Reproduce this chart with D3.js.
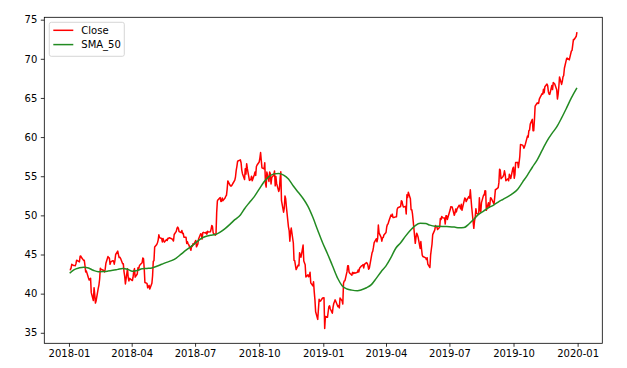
<!DOCTYPE html>
<html>
<head>
<meta charset="utf-8">
<script src="https://cdn.jsdelivr.net/npm/d3@7"></script>
<style>
  html, body { margin: 0; padding: 0; background: #fff; }
  svg { display: block; font-family: "DejaVu Sans", sans-serif; }
</style>
</head>
<body>
<div id="chart"></div>
<script>
// daily closing prices, one line per month
const dates = [
  "2018-01-02","2018-01-03","2018-01-04","2018-01-05","2018-01-08","2018-01-09","2018-01-10","2018-01-11","2018-01-12","2018-01-16","2018-01-17","2018-01-18","2018-01-19","2018-01-22","2018-01-23","2018-01-24","2018-01-25","2018-01-26","2018-01-29","2018-01-30","2018-01-31",
  "2018-02-01","2018-02-02","2018-02-05","2018-02-06","2018-02-07","2018-02-08","2018-02-09","2018-02-12","2018-02-13","2018-02-14","2018-02-15","2018-02-16","2018-02-20","2018-02-21","2018-02-22","2018-02-23","2018-02-26","2018-02-27","2018-02-28",
  "2018-03-01","2018-03-02","2018-03-05","2018-03-06","2018-03-07","2018-03-08","2018-03-09","2018-03-12","2018-03-13","2018-03-14","2018-03-15","2018-03-16","2018-03-19","2018-03-20","2018-03-21","2018-03-22","2018-03-23","2018-03-26","2018-03-27","2018-03-28","2018-03-29",
  "2018-04-02","2018-04-03","2018-04-04","2018-04-05","2018-04-06","2018-04-09","2018-04-10","2018-04-11","2018-04-12","2018-04-13","2018-04-16","2018-04-17","2018-04-18","2018-04-19","2018-04-20","2018-04-23","2018-04-24","2018-04-25","2018-04-26","2018-04-27","2018-04-30",
  "2018-05-01","2018-05-02","2018-05-03","2018-05-04","2018-05-07","2018-05-08","2018-05-09","2018-05-10","2018-05-11","2018-05-14","2018-05-15","2018-05-16","2018-05-17","2018-05-18","2018-05-21","2018-05-22","2018-05-23","2018-05-24","2018-05-25","2018-05-29","2018-05-30","2018-05-31",
  "2018-06-01","2018-06-04","2018-06-05","2018-06-06","2018-06-07","2018-06-08","2018-06-11","2018-06-12","2018-06-13","2018-06-14","2018-06-15","2018-06-18","2018-06-19","2018-06-20","2018-06-21","2018-06-22","2018-06-25","2018-06-26","2018-06-27","2018-06-28","2018-06-29",
  "2018-07-02","2018-07-03","2018-07-05","2018-07-06","2018-07-09","2018-07-10","2018-07-11","2018-07-12","2018-07-13","2018-07-16","2018-07-17","2018-07-18","2018-07-19","2018-07-20","2018-07-23","2018-07-24","2018-07-25","2018-07-26","2018-07-27","2018-07-30","2018-07-31",
  "2018-08-01","2018-08-02","2018-08-03","2018-08-06","2018-08-07","2018-08-08","2018-08-09","2018-08-10","2018-08-13","2018-08-14","2018-08-15","2018-08-16","2018-08-17","2018-08-20","2018-08-21","2018-08-22","2018-08-23","2018-08-24","2018-08-27","2018-08-28","2018-08-29","2018-08-30","2018-08-31",
  "2018-09-04","2018-09-05","2018-09-06","2018-09-07","2018-09-10","2018-09-11","2018-09-12","2018-09-13","2018-09-14","2018-09-17","2018-09-18","2018-09-19","2018-09-20","2018-09-21","2018-09-24","2018-09-25","2018-09-26","2018-09-27","2018-09-28",
  "2018-10-01","2018-10-02","2018-10-03","2018-10-04","2018-10-05","2018-10-08","2018-10-09","2018-10-10","2018-10-11","2018-10-12","2018-10-15","2018-10-16","2018-10-17","2018-10-18","2018-10-19","2018-10-22","2018-10-23","2018-10-24","2018-10-25","2018-10-26","2018-10-29","2018-10-30","2018-10-31",
  "2018-11-01","2018-11-02","2018-11-05","2018-11-06","2018-11-07","2018-11-08","2018-11-09","2018-11-12","2018-11-13","2018-11-14","2018-11-15","2018-11-16","2018-11-19","2018-11-20","2018-11-21","2018-11-23","2018-11-26","2018-11-27","2018-11-28","2018-11-29","2018-11-30",
  "2018-12-03","2018-12-04","2018-12-06","2018-12-07","2018-12-10","2018-12-11","2018-12-12","2018-12-13","2018-12-14","2018-12-17","2018-12-18","2018-12-19","2018-12-20","2018-12-21","2018-12-24","2018-12-26","2018-12-27","2018-12-28","2018-12-31",
  "2019-01-02","2019-01-03","2019-01-04","2019-01-07","2019-01-08","2019-01-09","2019-01-10","2019-01-11","2019-01-14","2019-01-15","2019-01-16","2019-01-17","2019-01-18","2019-01-22","2019-01-23","2019-01-24","2019-01-25","2019-01-28","2019-01-29","2019-01-30","2019-01-31",
  "2019-02-01","2019-02-04","2019-02-05","2019-02-06","2019-02-07","2019-02-08","2019-02-11","2019-02-12","2019-02-13","2019-02-14","2019-02-15","2019-02-19","2019-02-20","2019-02-21","2019-02-22","2019-02-25","2019-02-26","2019-02-27","2019-02-28",
  "2019-03-01","2019-03-04","2019-03-05","2019-03-06","2019-03-07","2019-03-08","2019-03-11","2019-03-12","2019-03-13","2019-03-14","2019-03-15","2019-03-18","2019-03-19","2019-03-20","2019-03-21","2019-03-22","2019-03-25","2019-03-26","2019-03-27","2019-03-28","2019-03-29",
  "2019-04-01","2019-04-02","2019-04-03","2019-04-04","2019-04-05","2019-04-08","2019-04-09","2019-04-10","2019-04-11","2019-04-12","2019-04-15","2019-04-16","2019-04-17","2019-04-18","2019-04-22","2019-04-23","2019-04-24","2019-04-25","2019-04-26","2019-04-29","2019-04-30",
  "2019-05-01","2019-05-02","2019-05-03","2019-05-06","2019-05-07","2019-05-08","2019-05-09","2019-05-10","2019-05-13","2019-05-14","2019-05-15","2019-05-16","2019-05-17","2019-05-20","2019-05-21","2019-05-22","2019-05-23","2019-05-24","2019-05-28","2019-05-29","2019-05-30","2019-05-31",
  "2019-06-03","2019-06-04","2019-06-05","2019-06-06","2019-06-07","2019-06-10","2019-06-11","2019-06-12","2019-06-13","2019-06-14","2019-06-17","2019-06-18","2019-06-19","2019-06-20","2019-06-21","2019-06-24","2019-06-25","2019-06-26","2019-06-27","2019-06-28",
  "2019-07-01","2019-07-02","2019-07-03","2019-07-05","2019-07-08","2019-07-09","2019-07-10","2019-07-11","2019-07-12","2019-07-15","2019-07-16","2019-07-17","2019-07-18","2019-07-19","2019-07-22","2019-07-23","2019-07-24","2019-07-25","2019-07-26","2019-07-29","2019-07-30","2019-07-31",
  "2019-08-01","2019-08-02","2019-08-05","2019-08-06","2019-08-07","2019-08-08","2019-08-09","2019-08-12","2019-08-13","2019-08-14","2019-08-15","2019-08-16","2019-08-19","2019-08-20","2019-08-21","2019-08-22","2019-08-23","2019-08-26","2019-08-27","2019-08-28","2019-08-29","2019-08-30",
  "2019-09-03","2019-09-04","2019-09-05","2019-09-06","2019-09-09","2019-09-10","2019-09-11","2019-09-12","2019-09-13","2019-09-16","2019-09-17","2019-09-18","2019-09-19","2019-09-20","2019-09-23","2019-09-24","2019-09-25","2019-09-26","2019-09-27","2019-09-30",
  "2019-10-01","2019-10-02","2019-10-03","2019-10-04","2019-10-07","2019-10-08","2019-10-09","2019-10-10","2019-10-11","2019-10-14","2019-10-15","2019-10-16","2019-10-17","2019-10-18","2019-10-21","2019-10-22","2019-10-23","2019-10-24","2019-10-25","2019-10-28","2019-10-29","2019-10-30","2019-10-31",
  "2019-11-01","2019-11-04","2019-11-05","2019-11-06","2019-11-07","2019-11-08","2019-11-11","2019-11-12","2019-11-13","2019-11-14","2019-11-15","2019-11-18","2019-11-19","2019-11-20","2019-11-21","2019-11-22","2019-11-25","2019-11-26","2019-11-27","2019-11-29",
  "2019-12-02","2019-12-03","2019-12-04","2019-12-05","2019-12-06","2019-12-09","2019-12-10","2019-12-11","2019-12-12","2019-12-13","2019-12-16","2019-12-17","2019-12-18","2019-12-19","2019-12-20","2019-12-23","2019-12-24","2019-12-26","2019-12-27","2019-12-30","2019-12-31"
];

const closePrices = [
  43.07,43.06,43.26,43.75,43.59,43.58,43.57,43.82,44.27,44.05,44.78,44.81,44.62,44.25,44.26,43.56,42.78,42.88,41.99,41.74,41.86,
  41.95,40.13,39.12,40.76,39.89,38.79,39.10,40.68,41.09,41.84,43.25,43.11,42.96,42.77,43.13,43.88,44.74,44.60,44.53,
  43.75,44.05,44.21,44.17,43.76,44.24,45.00,45.43,44.99,44.61,44.66,44.51,43.83,43.81,42.82,42.21,41.24,43.19,42.09,41.62,41.95,
  41.67,42.10,42.90,43.20,42.10,42.51,43.31,43.11,43.54,43.68,43.96,44.56,44.46,43.20,41.43,41.31,40.74,40.91,41.06,40.58,41.32,
  42.28,44.14,44.22,45.96,46.29,46.51,46.84,47.51,47.15,47.04,46.61,47.05,46.75,46.58,46.91,46.79,47.09,47.04,47.15,46.98,46.88,46.72,
  47.56,47.96,48.33,48.50,48.37,47.93,47.81,48.07,47.68,47.70,47.21,47.19,46.42,46.63,46.37,46.23,45.54,46.11,46.04,46.38,46.28,
  46.80,45.98,46.35,46.99,47.65,47.59,46.97,47.76,47.83,47.73,47.86,47.60,47.97,47.86,47.90,48.25,48.71,48.55,47.75,47.48,47.57,
  50.38,51.85,52.00,52.27,51.78,51.81,52.22,51.88,52.22,52.44,52.56,53.33,54.40,53.87,53.76,53.76,53.87,54.04,54.49,54.93,55.75,56.26,56.91,
  57.09,56.72,55.78,55.33,54.58,55.96,55.27,56.60,55.96,54.47,54.56,54.59,55.01,54.42,55.20,55.55,55.11,56.24,56.44,
  56.82,57.32,58.02,57.00,56.07,55.94,56.72,54.09,53.61,55.53,54.34,55.54,55.30,54.01,54.83,55.16,55.68,53.77,54.95,54.08,53.06,53.33,54.72,
  55.56,51.87,50.40,50.94,52.49,52.12,51.12,48.54,48.06,46.70,47.85,48.38,46.47,44.25,44.20,43.07,43.66,43.56,45.24,44.89,44.65,
  46.21,44.17,43.68,42.12,42.40,42.16,42.28,42.74,41.37,40.99,41.52,40.22,39.21,37.68,36.71,39.29,39.04,39.06,39.44,
  39.48,35.55,37.07,36.98,37.69,38.33,38.45,38.07,37.50,38.27,38.74,38.97,39.21,38.33,38.48,38.18,39.44,39.08,38.67,41.31,41.61,
  41.63,42.81,43.55,43.56,42.74,42.60,42.36,42.72,42.55,42.70,42.61,42.73,43.01,42.77,43.24,43.56,43.58,43.72,43.29,
  43.74,43.96,43.88,43.63,43.13,43.23,44.73,45.23,45.43,45.93,46.53,47.01,46.63,47.04,48.77,47.76,47.19,46.70,47.12,47.18,47.49,
  47.81,48.51,48.84,48.92,49.25,50.03,49.88,50.16,49.74,49.72,49.81,49.81,50.78,50.97,51.13,51.87,51.79,51.32,51.08,51.15,50.17,
  52.63,52.29,52.94,52.12,50.72,50.73,50.18,49.30,46.43,47.17,47.73,47.52,47.25,45.77,46.65,45.70,44.92,44.74,44.56,44.35,44.58,43.77,
  43.33,44.91,45.64,46.31,47.54,48.15,48.70,48.55,48.54,48.19,48.47,49.61,49.47,49.87,49.70,49.65,48.89,49.95,49.94,49.48,
  50.39,50.68,51.10,51.06,50.01,50.31,50.81,50.44,50.83,51.30,51.13,50.84,51.42,50.65,51.81,52.21,52.17,51.76,51.94,52.42,52.20,53.26,
  52.11,51.01,48.34,49.25,49.76,50.86,50.25,50.12,52.24,50.69,50.44,51.63,52.59,52.59,53.16,53.12,50.66,51.62,51.04,51.38,52.25,52.19,
  51.43,52.30,53.32,53.32,53.54,54.18,55.90,55.77,54.69,54.98,55.18,55.69,55.24,54.43,54.68,54.42,55.26,54.97,54.71,55.99,
  56.15,54.74,55.21,56.75,56.77,56.10,56.76,57.52,59.05,58.97,58.83,58.59,58.82,59.10,60.13,59.99,60.80,60.90,61.65,62.26,60.82,60.82,62.19,
  63.96,64.38,64.28,64.31,64.86,65.04,65.55,65.49,66.12,65.66,66.44,66.78,66.57,65.80,65.50,65.45,66.59,66.07,66.96,66.81,
  66.04,64.86,65.44,66.40,67.68,66.73,67.12,67.69,67.87,68.79,69.97,70.10,69.94,70.01,69.86,71.00,71.07,72.48,72.45,72.88,73.41
];

// 50-day moving average, read off the chart roughly once a week
const smaDates = [
  "2018-01-02","2018-01-08","2018-01-16","2018-01-22","2018-01-29","2018-02-05","2018-02-12","2018-02-20","2018-02-26",
  "2018-03-05","2018-03-12","2018-03-19","2018-03-26","2018-04-02","2018-04-09","2018-04-16","2018-04-23","2018-04-30",
  "2018-05-07","2018-05-14","2018-05-21","2018-05-29","2018-06-04","2018-06-11","2018-06-18","2018-06-25",
  "2018-07-02","2018-07-09","2018-07-16","2018-07-23","2018-07-30","2018-08-06","2018-08-13","2018-08-20","2018-08-27",
  "2018-09-04","2018-09-10","2018-09-17","2018-09-24","2018-10-01","2018-10-08","2018-10-15","2018-10-22","2018-10-29",
  "2018-11-05","2018-11-12","2018-11-19","2018-11-26","2018-12-03","2018-12-10","2018-12-17","2018-12-24","2018-12-31",
  "2019-01-07","2019-01-14","2019-01-22","2019-01-28","2019-02-04","2019-02-11","2019-02-19","2019-02-25",
  "2019-03-04","2019-03-11","2019-03-18","2019-03-25","2019-04-01","2019-04-08","2019-04-15","2019-04-22","2019-04-29",
  "2019-05-06","2019-05-13","2019-05-20","2019-05-28","2019-06-03","2019-06-10","2019-06-17","2019-06-24",
  "2019-07-01","2019-07-08","2019-07-15","2019-07-22","2019-07-29","2019-08-05","2019-08-12","2019-08-19","2019-08-26",
  "2019-09-03","2019-09-09","2019-09-16","2019-09-23","2019-09-30","2019-10-07","2019-10-14","2019-10-21","2019-10-28",
  "2019-11-04","2019-11-11","2019-11-18","2019-11-25","2019-12-02","2019-12-09","2019-12-16","2019-12-23","2019-12-31"
];

const sma50 = [
  42.60,43.05,43.30,43.38,43.28,42.98,42.80,42.82,42.88,
  42.98,43.10,43.22,43.12,42.85,42.95,43.18,43.22,43.28,
  43.50,43.75,44.00,44.25,44.55,45.05,45.55,46.00,
  46.50,47.00,47.30,47.45,47.55,47.85,48.30,48.85,49.45,
  50.05,50.85,51.65,52.40,53.35,54.30,54.95,55.30,55.35,
  55.15,54.65,53.75,52.95,52.15,51.15,49.75,48.10,46.50,
  45.10,43.60,41.90,41.00,40.60,40.45,40.38,40.50,
  40.75,41.15,41.95,42.80,43.55,44.60,45.80,46.50,47.35,
  48.10,48.70,49.00,48.95,48.75,48.62,48.60,48.57,
  48.55,48.50,48.42,48.45,48.90,49.50,50.15,50.55,50.95,
  51.35,51.70,52.05,52.40,52.80,53.35,54.25,55.15,56.15,
  57.10,58.30,59.50,60.45,61.30,62.45,63.70,65.00,66.28
];

const seriesNames = ["Close", "SMA_50"];
const seriesColors = ["#ff0000", "#228b22"];
const yTicks = [35, 40, 45, 50, 55, 60, 65, 70, 75];
const xTicks = ["2018-01-01","2018-04-01","2018-07-01","2018-10-01","2019-01-01","2019-04-01","2019-07-01","2019-10-01","2020-01-01"];

const width = 627;
const height = 368;
const margin = { top: 17.3, right: 24.7, bottom: 24.7, left: 44.3 };

const parse = d3.timeParse("%Y-%m-%d");
const closeData = dates.map((d, i) => ({ date: parse(d), value: closePrices[i] }));
const smaData = smaDates.map((d, i) => ({ date: parse(d), value: sma50[i] }));

// matplotlib style autoscale: data extent plus 5% on each side
const [d0, d1] = d3.extent(closeData, d => d.date);
const xPad = (d1 - d0) * 0.05;
const allValues = closePrices.concat(sma50);
const [v0, v1] = d3.extent(allValues);
const yPad = (v1 - v0) * 0.05;

const x = d3.scaleTime()
  .domain([new Date(+d0 - xPad), new Date(+d1 + xPad)])
  .range([margin.left, width - margin.right]);

const y = d3.scaleLinear()
  .domain([v0 - yPad, v1 + yPad])
  .range([height - margin.bottom, margin.top]);

const svg = d3.select("#chart")
  .append("svg")
  .attr("width", width)
  .attr("height", height)
  .attr("viewBox", [0, 0, width, height]);

svg.append("rect")
  .attr("width", width)
  .attr("height", height)
  .attr("fill", "#fff");

const line = d3.line()
  .x(d => x(d.date))
  .y(d => y(d.value));

const plot = svg.append("g");

plot.append("path")
  .datum(closeData)
  .attr("fill", "none")
  .attr("stroke", seriesColors[0])
  .attr("stroke-width", 1.5)
  .attr("stroke-linejoin", "round")
  .attr("d", line);

plot.append("path")
  .datum(smaData)
  .attr("fill", "none")
  .attr("stroke", seriesColors[1])
  .attr("stroke-width", 1.5)
  .attr("stroke-linejoin", "round")
  .attr("d", line.curve(d3.curveMonotoneX));

const xAxis = g => {
  g
    .attr("transform", `translate(0, ${height - margin.bottom})`)
    .call(d3.axisBottom(x)
      .tickValues(xTicks.map(parse))
      .tickFormat(d3.timeFormat("%Y-%m"))
      .tickSize(3.5)
      .tickPadding(3.5)
      .tickSizeOuter(0))
    .attr("font-size", "10px")
    .attr("font-family", "DejaVu Sans, sans-serif");
  g.select(".domain").remove();
};

const yAxis = g => {
  g
    .attr("transform", `translate(${margin.left}, 0)`)
    .call(d3.axisLeft(y)
      .tickValues(yTicks)
      .tickSize(3.5)
      .tickPadding(3.5)
      .tickSizeOuter(0))
    .attr("font-size", "10px")
    .attr("font-family", "DejaVu Sans, sans-serif");
  g.select(".domain").remove();
};

svg.append("g").call(xAxis);
svg.append("g").call(yAxis);
svg.selectAll(".tick line").attr("stroke", "#000").attr("stroke-width", 0.8);
svg.selectAll(".tick text").attr("fill", "#000");

// axes frame
svg.append("rect")
  .attr("x", margin.left)
  .attr("y", margin.top)
  .attr("width", width - margin.left - margin.right)
  .attr("height", height - margin.top - margin.bottom)
  .attr("fill", "none")
  .attr("stroke", "#000")
  .attr("stroke-width", 0.8);

// legend
const legend = svg.append("g")
  .attr("transform", `translate(${margin.left + 5}, ${margin.top + 5})`);

legend.append("rect")
  .attr("width", 75)
  .attr("height", 34)
  .attr("rx", 2)
  .attr("fill", "#fff")
  .attr("fill-opacity", 0.8)
  .attr("stroke", "#cccccc")
  .attr("stroke-width", 0.8);

const item = legend.selectAll("g.item")
  .data(seriesNames)
  .join("g")
    .attr("class", "item")
    .attr("transform", (d, i) => `translate(4, ${8 + i * 14.3})`);

item.append("line")
  .attr("x1", 0)
  .attr("x2", 20)
  .attr("stroke", (d, i) => seriesColors[i])
  .attr("stroke-width", 1.5);

item.append("text")
  .attr("x", 28)
  .attr("dy", "0.35em")
  .attr("font-size", "10px")
  .attr("fill", "#000")
  .text(d => d);
</script>
</body>
</html>
